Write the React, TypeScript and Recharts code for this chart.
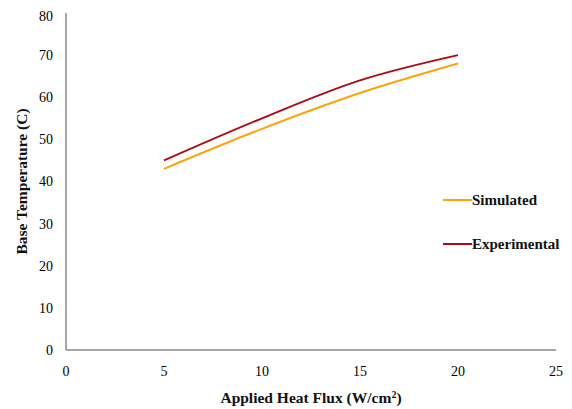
import { LineChart, Line, XAxis, YAxis, Label } from 'recharts'

const heatFlux = [5, 10, 15, 20]
const simulated = [43, 52.5, 61, 68]
const experimental = [45, 55, 64, 70]
const xTicks = [0, 5, 10, 15, 20, 25]
const yTicks = [0, 10, 20, 30, 40, 50, 60, 70, 80]

const data = heatFlux.map((x, i) => ({ x, simulated: simulated[i], experimental: experimental[i] }))

const SIM_COLOR = '#FFA20A'
const EXP_COLOR = '#AE0B16'
const serif = '"Liberation Serif", "DejaVu Serif", serif'

const tickStyle = { fontFamily: serif, fontSize: 14, fontWeight: 400, fill: '#000' }

function LegendBox() {
  const items = [
    { name: 'Simulated', color: SIM_COLOR },
    { name: 'Experimental', color: EXP_COLOR },
  ]
  return (
    <div style={{ position: 'absolute', left: 435, top: 180, fontFamily: serif, fontWeight: 700, fontSize: 15, color: '#111' }}>
      {items.map(it => (
        <div key={it.name} style={{ display: 'flex', alignItems: 'center', height: 24, marginBottom: 20 }}>
          <span style={{ width: 29, height: 2, background: it.color, display: 'inline-block' }} />
          <span>{it.name}</span>
        </div>
      ))}
    </div>
  )
}

export default function App() {
  return (
    <div style={{ position: 'relative', width: 564, height: 401 }}>
      <LineChart width={564} height={401} data={data} margin={{ top: 5, right: 16, left: 0, bottom: 29 }}>
        <XAxis
          dataKey="x"
          type="number"
          domain={[0, 25]}
          ticks={xTicks}
          tickLine={false}
          tickMargin={10}
          height={30}
          stroke="#888"
          strokeWidth={1.5}
          tick={tickStyle}
        >
          <Label
            content={({ viewBox }: any) => (
              <text
                x={viewBox.x + viewBox.width / 2}
                y={viewBox.y + 53}
                textAnchor="middle"
                style={{ fontFamily: serif, fontSize: 15.5, fontWeight: 700, fill: '#111' }}
              >
                Applied Heat Flux (W/cm<tspan dy={-5} fontSize={10}>2</tspan><tspan dy={5}>)</tspan>
              </text>
            )}
          />
        </XAxis>
        <YAxis
          type="number"
          domain={[0, 80]}
          ticks={yTicks}
          tickLine={false}
          tickMargin={7}
          width={58}
          stroke="#888"
          strokeWidth={1.5}
          tick={tickStyle}
        >
          <Label
            content={({ viewBox }: any) => {
              const cx = viewBox.x + 19
              const cy = viewBox.y + viewBox.height / 2
              return (
                <text
                  x={cx}
                  y={cy}
                  transform={`rotate(-90 ${cx} ${cy})`}
                  textAnchor="middle"
                  style={{ fontFamily: serif, fontSize: 15.5, fontWeight: 700, fill: '#111' }}
                >
                  Base Temperature (C)
                </text>
              )
            }}
          />
        </YAxis>
        <Line type="monotone" dataKey="simulated" name="Simulated" stroke={SIM_COLOR} strokeWidth={2} dot={false} isAnimationActive={false} />
        <Line type="monotone" dataKey="experimental" name="Experimental" stroke={EXP_COLOR} strokeWidth={2} dot={false} isAnimationActive={false} />
      </LineChart>
      <LegendBox />
    </div>
  )
}
